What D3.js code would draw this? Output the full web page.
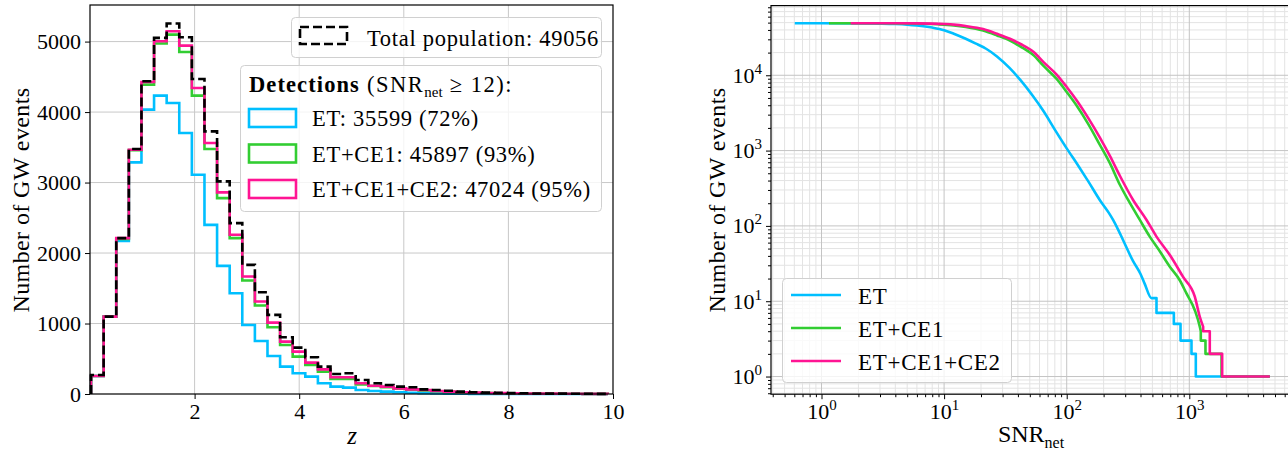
<!DOCTYPE html>
<html lang="en">
<head>
<meta charset="UTF-8">
<title>GW events</title>
<script src="https://cdn.jsdelivr.net/npm/d3@7"></script>
<style>
  body { margin: 0; background: #fff; }
  text { font-family: "Liberation Serif", "DejaVu Serif", serif; fill: #000; }
</style>
</head>
<body>
<script>
// ---- left panel: redshift histogram (41 bins between zMin and zMax)
const zMin = 0.02, zMax = 9.9, nBins = 41
const countsTotal = [270, 1098, 2211, 3475, 4437, 5052, 5256, 5062, 4470, 3726, 3016, 2424, 1832, 1444, 1122, 805, 658, 521, 388, 284, 294, 199, 152, 128, 104, 95, 66, 57, 47, 33, 25, 20, 16, 13, 10, 8, 6, 5, 4, 3, 2]
const countsET = [256, 1098, 2173, 3286, 4034, 4233, 4129, 3703, 3111, 2400, 1818, 1430, 980, 753, 540, 388, 294, 246, 152, 104, 90, 57, 43, 33, 24, 18, 12, 8, 5, 3, 2, 1, 1, 0, 0, 0, 0, 0, 0, 0, 0]
const countsCE1 = [256, 1098, 2200, 3460, 4389, 4972, 5099, 4853, 4233, 3475, 2779, 2211, 1610, 1255, 947, 696, 530, 412, 317, 213, 213, 137, 114, 95, 75, 62, 52, 40, 30, 23, 18, 14, 11, 9, 7, 6, 5, 4, 3, 2, 2]
const countsCE2 = [256, 1098, 2211, 3466, 4427, 5005, 5147, 4943, 4342, 3561, 2860, 2259, 1667, 1312, 1013, 743, 601, 445, 350, 237, 237, 152, 118, 104, 80, 66, 57, 43, 33, 25, 19, 15, 12, 10, 8, 6, 5, 4, 3, 2, 2]
const zTicks = [2, 4, 6, 8, 10]
const countTicks = [0, 1000, 2000, 3000, 4000, 5000]

// ---- right panel: number of events with SNR above threshold
const snrET = [0.605, 1, 2, 3, 4, 5, 6, 8, 10, 12, 15, 18, 22, 27, 34, 42, 53, 65, 80, 100, 125, 150, 186, 220, 239, 262, 288, 348, 400, 433, 492, 540, 540, 748, 748, 848, 848, 1042, 1042, 1130, 1130, 4540]
const nET = [49056, 49050, 48900, 48500, 47900, 47000, 45800, 43000, 39700, 35599, 30500, 26500, 22500, 17800, 12600, 8600, 5300, 3300, 1900, 1070, 620, 390, 221, 150, 120, 90, 65, 34, 23, 17, 11, 11, 7, 7, 5, 5, 3, 3, 2, 2, 1, 1]
const snrCE1 = [1.15, 3, 5, 7, 9, 12, 15, 20.8, 27, 34.4, 42, 53.4, 65, 82.4, 100, 120, 150, 186, 225, 272, 317, 395, 476, 580, 694, 836, 948, 1109, 1218, 1241, 1241, 1355, 1355, 1832, 1832, 4540]
const nCE1 = [49056, 49040, 48900, 48400, 47500, 45897, 43800, 39300, 33800, 28800, 24000, 18500, 13200, 9000, 6000, 4000, 2250, 1200, 680, 349, 221, 120, 72, 45, 28.7, 19, 12.7, 7.6, 4.6, 4, 3, 3, 2, 2, 1, 1]
const snrCE2 = [1.73, 4, 6, 8, 10, 12, 15, 20.8, 27, 34.4, 42, 53.4, 65, 82.4, 100, 120, 150, 186, 225, 272, 348, 448, 540, 694, 890, 1109, 1218, 1297, 1297, 1469, 1469, 1854, 1854, 4540]
const nCE2 = [49056, 49040, 48900, 48500, 47900, 47024, 45000, 41000, 35500, 30500, 26000, 20500, 14800, 10300, 7000, 4700, 2700, 1500, 850, 460, 221, 120, 72, 41, 21, 11.5, 6.2, 4.6, 4, 4, 2, 2, 1, 1]
const snrTicks = [1, 10, 100, 1000]
const nTicks = [1, 10, 100, 1000, 10000]

const cET = '#00bfff', cCE1 = '#32cd32', cCE2 = '#ff1493'
const tickFont = 22

const svg = d3.select('body').append('svg').attr('width', 1288).attr('height', 450)

// ================= left panel =================
const xL = d3.scaleLinear().domain([0, 10]).range([90, 613])
const yL = d3.scaleLinear().domain([0, 5519]).range([394, 5])
const left = svg.append('g')

left.selectAll('line.gx').data(zTicks.filter(d => d < 10)).enter().append('line')
    .attr('x1', d => xL(d)).attr('x2', d => xL(d)).attr('y1', yL.range()[1]).attr('y2', yL.range()[0])
    .attr('stroke', '#c8c8c8').attr('stroke-width', 1)
left.selectAll('line.gy').data(countTicks.filter(d => d > 0)).enter().append('line')
    .attr('x1', 90).attr('x2', 613).attr('y1', d => yL(d)).attr('y2', d => yL(d))
    .attr('stroke', '#c8c8c8').attr('stroke-width', 1)

const binW = (zMax - zMin) / nBins
const edges = d3.range(nBins + 1).map(i => zMin + i * binW)
const stepPts = counts => [[edges[0], 0]]
    .concat(...counts.map((c, i) => [[edges[i], c], [edges[i + 1], c]]), [[edges[nBins], 0]])
const histLine = d3.line().x(d => xL(d[0])).y(d => yL(d[1]))

const hists = [
    {counts: countsET, color: cET, dash: null},
    {counts: countsCE1, color: cCE1, dash: null},
    {counts: countsCE2, color: cCE2, dash: null},
    {counts: countsTotal, color: '#000', dash: '9,4'}
]
left.selectAll('path.hist').data(hists).enter().append('path')
    .attr('class', 'hist')
    .attr('d', d => histLine(stepPts(d.counts)))
    .attr('fill', 'none')
    .attr('stroke', d => d.color)
    .attr('stroke-width', 2.6)
    .attr('stroke-dasharray', d => d.dash)

const styleTicks = g => {
    g.select('.domain').remove()
    g.selectAll('.tick line').attr('stroke', '#000').attr('stroke-width', 1)
    g.selectAll('.tick text').attr('font-family', '"Liberation Serif", serif').attr('font-size', tickFont).attr('fill', '#000')
}
left.append('g').attr('transform', 'translate(0,394)')
    .call(d3.axisBottom(xL).tickValues(zTicks).tickSize(5).tickSizeOuter(0).tickPadding(4).tickFormat(d3.format('d')))
    .call(styleTicks)
left.append('g').attr('transform', 'translate(90,0)')
    .call(d3.axisLeft(yL).tickValues(countTicks).tickSize(5).tickSizeOuter(0).tickPadding(4).tickFormat(d3.format('d')))
    .call(styleTicks)
left.append('rect').attr('x', 90).attr('y', 5).attr('width', 523).attr('height', 389)
    .attr('fill', 'none').attr('stroke', '#000').attr('stroke-width', 1.2)

left.append('text').attr('transform', 'translate(29,200) rotate(-90)')
    .attr('text-anchor', 'middle').attr('font-size', 24).attr('letter-spacing', 0.4).text('Number of GW events')
left.append('text').attr('x', 352).attr('y', 444).attr('text-anchor', 'middle')
    .attr('font-size', 25).attr('font-style', 'italic').text('z')

// legends (left)
const legBox = (g, x, y, w, h) => g.append('rect').attr('x', x).attr('y', y).attr('width', w).attr('height', h)
    .attr('rx', 4).attr('fill', '#fff').attr('fill-opacity', 0.8).attr('stroke', '#d0d0d0').attr('stroke-width', 1)
legBox(left, 291.5, 17.5, 310, 40)
left.append('rect').attr('x', 300).attr('y', 27).attr('width', 47).attr('height', 17)
    .attr('fill', 'none').attr('stroke', '#000').attr('stroke-width', 2.6).attr('stroke-dasharray', '9,4')
left.append('text').attr('x', 367).attr('y', 46).attr('font-size', 22.5).attr('letter-spacing', 0.7)
    .text('Total population: 49056')

legBox(left, 240.5, 65.5, 361, 146)
const title = left.append('text').attr('x', 249).attr('y', 92).attr('font-size', 22.5)
title.append('tspan').attr('font-weight', 'bold').attr('letter-spacing', 1.1).text('Detections')
title.append('tspan').attr('letter-spacing', 1.5).text(' (SNR')
title.append('tspan').attr('dy', 5).attr('font-size', 15).text('net')
title.append('tspan').attr('dy', -5).attr('letter-spacing', 1.5).text(' \u2265 12):')

const legItems = [
    {label: 'ET: 35599 (72%)', color: cET},
    {label: 'ET+CE1: 45897 (93%)', color: cCE1},
    {label: 'ET+CE1+CE2: 47024 (95%)', color: cCE2}
]
legItems.forEach((d, i) => {
    const y = 109 + i * 35.5
    left.append('rect').attr('x', 249).attr('y', y).attr('width', 47).attr('height', 18)
        .attr('fill', 'none').attr('stroke', d.color).attr('stroke-width', 2.6)
    left.append('text').attr('x', 312).attr('y', y + 17).attr('font-size', 22.5).attr('letter-spacing', 0.7)
        .text(d.label)
})

// ================= right panel =================
const xR = d3.scaleLog().domain([Math.pow(10, -0.412), Math.pow(10, 3.854)]).range([771, 1294])
const yR = d3.scaleLog().domain([Math.pow(10, -0.2345), Math.pow(10, 4.925)]).range([394.2, 5.6])
const right = svg.append('g')

const minorVals = (scale, lo, hi) => {
    const out = []
    const [d0, d1] = scale.domain()
    for (let e = lo; e <= hi; e++) for (let k = 2; k <= 9; k++) {
        const v = k * Math.pow(10, e)
        if (v > d0 && v < d1) out.push(v)
    }
    return out
}
const xMinor = minorVals(xR, -1, 3)
const yMinor = minorVals(yR, -1, 4)

right.selectAll('line.mgx').data(xMinor).enter().append('line')
    .attr('x1', d => xR(d)).attr('x2', d => xR(d)).attr('y1', 5.6).attr('y2', 394.2)
    .attr('stroke', '#e3e3e3').attr('stroke-width', 1)
right.selectAll('line.mgy').data(yMinor).enter().append('line')
    .attr('x1', 771).attr('x2', 1294).attr('y1', d => yR(d)).attr('y2', d => yR(d))
    .attr('stroke', '#e3e3e3').attr('stroke-width', 1)
right.selectAll('line.gx').data(snrTicks).enter().append('line')
    .attr('x1', d => xR(d)).attr('x2', d => xR(d)).attr('y1', 5.6).attr('y2', 394.2)
    .attr('stroke', '#c4c4c4').attr('stroke-width', 1)
right.selectAll('line.gy').data(nTicks).enter().append('line')
    .attr('x1', 771).attr('x2', 1294).attr('y1', d => yR(d)).attr('y2', d => yR(d))
    .attr('stroke', '#c4c4c4').attr('stroke-width', 1)

const curves = [
    {snr: snrET, n: nET, color: cET, label: 'ET'},
    {snr: snrCE1, n: nCE1, color: cCE1, label: 'ET+CE1'},
    {snr: snrCE2, n: nCE2, color: cCE2, label: 'ET+CE1+CE2'}
]
// smooth part up to the first vertical step, then the stepped tail drawn straight
const cumSmooth = d3.line().x(d => xR(d[0])).y(d => yR(d[1])).curve(d3.curveMonotoneX)
const cumStraight = d3.line().x(d => xR(d[0])).y(d => yR(d[1]))
const cumPath = d => {
    const pts = d.snr.map((s, i) => [s, d.n[i]])
    const k = pts.findIndex((p, i) => i < pts.length - 1 && pts[i + 1][0] === p[0])
    return cumSmooth(pts.slice(0, k + 1)) + cumStraight(pts.slice(k)).replace(/^M/, 'L')
}
right.selectAll('path.cum').data(curves).enter().append('path')
    .attr('class', 'cum')
    .attr('d', cumPath)
    .attr('fill', 'none').attr('stroke', d => d.color).attr('stroke-width', 2.6)
    .attr('stroke-linejoin', 'round')

const powLabels = g => {
    g.selectAll('.tick text').each(function (d) {
        const t = d3.select(this)
        t.text('')
        t.append('tspan').text('10')
        t.append('tspan').attr('dy', -9).attr('font-size', 15).text(Math.round(Math.log10(d)))
    })
}
right.append('g').attr('transform', 'translate(0,394.2)')
    .call(d3.axisBottom(xR).tickValues(xMinor).tickSize(3).tickSizeOuter(0).tickFormat(''))
    .call(styleTicks)
right.append('g').attr('transform', 'translate(0,394.2)')
    .call(d3.axisBottom(xR).tickValues(snrTicks).tickSize(5).tickSizeOuter(0).tickPadding(4))
    .call(styleTicks).call(powLabels)
right.append('g').attr('transform', 'translate(771,0)')
    .call(d3.axisLeft(yR).tickValues(yMinor).tickSize(3).tickSizeOuter(0).tickFormat(''))
    .call(styleTicks)
right.append('g').attr('transform', 'translate(771,0)')
    .call(d3.axisLeft(yR).tickValues(nTicks).tickSize(5).tickSizeOuter(0).tickPadding(4))
    .call(styleTicks).call(powLabels)
right.append('rect').attr('x', 771).attr('y', 5.6).attr('width', 523).attr('height', 388.6)
    .attr('fill', 'none').attr('stroke', '#000').attr('stroke-width', 1.2)

right.append('text').attr('transform', 'translate(725,200) rotate(-90)')
    .attr('text-anchor', 'middle').attr('font-size', 24).attr('letter-spacing', 0.4).text('Number of GW events')
const xlab = right.append('text').attr('x', 1031).attr('y', 442).attr('text-anchor', 'middle').attr('font-size', 24)
xlab.append('tspan').text('SNR')
xlab.append('tspan').attr('dy', 6).attr('font-size', 16).text('net')

// legend (right)
legBox(right, 782.5, 278.5, 229, 104)
curves.forEach((d, i) => {
    const y = 295 + i * 33
    right.append('line').attr('x1', 791).attr('x2', 841).attr('y1', y).attr('y2', y)
        .attr('stroke', d.color).attr('stroke-width', 2.6)
    right.append('text').attr('x', 858).attr('y', y + 9).attr('font-size', 23).attr('letter-spacing', 0.7)
        .text(d.label)
})
</script>
</body>
</html>
